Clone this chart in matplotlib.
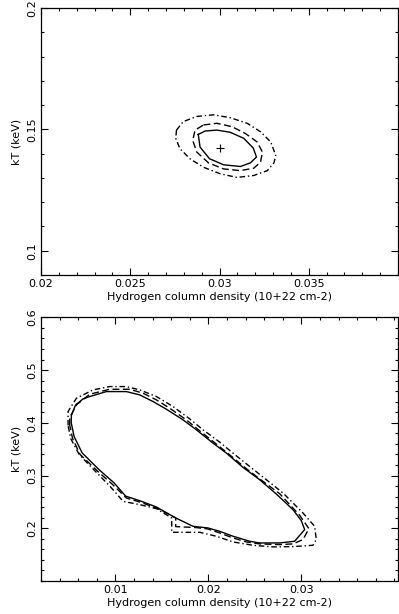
import matplotlib
matplotlib.use("Agg")
import matplotlib.pyplot as plt
from matplotlib.ticker import MultipleLocator, FixedLocator

# top panel: confidence contours around best fit
top_best = (0.0300, 0.1425)

top_solid_x = [0.02881, 0.02891, 0.02944, 0.03023, 0.03117, 0.03173, 0.03207, 0.03189, 0.03136, 0.03060, 0.02985, 0.02919, 0.02881]
top_solid_y = [0.1479, 0.1427, 0.1379, 0.1354, 0.1347, 0.1362, 0.1386, 0.1423, 0.1463, 0.1488, 0.1497, 0.1493, 0.1479]

top_dash_x = [0.02910, 0.02985, 0.03070, 0.03145, 0.03211, 0.03240, 0.03230, 0.03192, 0.03117, 0.03023, 0.02938, 0.02872, 0.02850, 0.02863, 0.02910]
top_dash_y = [0.1518, 0.1525, 0.1511, 0.1483, 0.1448, 0.1407, 0.1365, 0.1340, 0.1330, 0.1337, 0.1362, 0.1407, 0.1455, 0.1497, 0.1518]

top_dd_x = [0.02759, 0.02797, 0.02872, 0.02966, 0.03060, 0.03155, 0.03230, 0.03287, 0.03315, 0.03305, 0.03268, 0.03192, 0.03098, 0.03004, 0.02910, 0.02834, 0.02778, 0.02755, 0.02759]
top_dd_y = [0.1497, 0.1532, 0.1553, 0.1560, 0.1548, 0.1525, 0.1490, 0.1448, 0.1393, 0.1362, 0.1330, 0.1310, 0.1302, 0.1317, 0.1344, 0.1379, 0.1421, 0.1463, 0.1497]

# bottom panel
bot_solid_x = [0.00527, 0.00573, 0.00652, 0.00724, 0.00903, 0.01118, 0.01262, 0.01405, 0.01548, 0.01728, 0.01871, 0.02050, 0.02194,
               0.02373, 0.02552, 0.02731, 0.02910, 0.03000, 0.03036, 0.02928, 0.02767, 0.02552, 0.02444, 0.02265, 0.02122, 0.01996,
               0.01835, 0.01649, 0.01441, 0.01262, 0.01110, 0.00986, 0.00825, 0.00642, 0.00556, 0.00525, 0.00527]
bot_solid_y = [0.4151, 0.4340, 0.4453, 0.4498, 0.4592, 0.4592, 0.4529, 0.4403, 0.4258, 0.4056, 0.3867, 0.3615, 0.3425,
               0.3154, 0.2921, 0.2650, 0.2353, 0.2145, 0.1975, 0.1754, 0.1722, 0.1722, 0.1754, 0.1849, 0.1943, 0.2006,
               0.2038, 0.2196, 0.2404, 0.2523, 0.2610, 0.2860, 0.3110, 0.3430, 0.3740, 0.4000, 0.4151]

bot_dash_x = [0.00509, 0.00509, 0.00581, 0.00724, 0.00939, 0.01154, 0.01297, 0.01441, 0.01584, 0.01763, 0.01907, 0.02086, 0.02229,
              0.02409, 0.02588, 0.02767, 0.02982, 0.03082, 0.03018, 0.02910, 0.02767, 0.02552, 0.02409, 0.02265, 0.02122, 0.01996,
              0.01871, 0.01649, 0.01649, 0.01441, 0.01262, 0.01118, 0.00970, 0.00810, 0.00620, 0.00540, 0.00509]
bot_dash_y = [0.3950, 0.4088, 0.4340, 0.4542, 0.4636, 0.4636, 0.4561, 0.4435, 0.4277, 0.4056, 0.3848, 0.3596, 0.3394,
              0.3129, 0.2889, 0.2656, 0.2246, 0.1994, 0.1786, 0.1704, 0.1691, 0.1704, 0.1741, 0.1817, 0.1912, 0.1987,
              0.2013, 0.2032, 0.2196, 0.2385, 0.2498, 0.2574, 0.2830, 0.3080, 0.3400, 0.3700, 0.3950]

bot_dd_x = [0.00491, 0.00491, 0.00581, 0.00760, 0.00939, 0.01118, 0.01262, 0.01441, 0.01620, 0.01799, 0.01943, 0.02122, 0.02265,
            0.02444, 0.02624, 0.02803, 0.03018, 0.03143, 0.03161, 0.03125, 0.02910, 0.02695, 0.02480, 0.02265, 0.02086, 0.01907,
            0.01606, 0.01606, 0.01441, 0.01262, 0.01082, 0.01020, 0.00940, 0.00790, 0.00610, 0.00520, 0.00491]
bot_dd_y = [0.3950, 0.4214, 0.4466, 0.4624, 0.4687, 0.4687, 0.4624, 0.4498, 0.4308, 0.4075, 0.3867, 0.3634, 0.3425,
            0.3173, 0.2921, 0.2669, 0.2290, 0.2038, 0.1786, 0.1678, 0.1653, 0.1647, 0.1678, 0.1741, 0.1849, 0.1924,
            0.1924, 0.2196, 0.2372, 0.2448, 0.2511, 0.2640, 0.2800, 0.3070, 0.3400, 0.3700, 0.3950]

xlabel = "Hydrogen column density (10+22 cm-2)"
ylabel = "kT (keV)"

plt.rcParams['font.family'] = ['DejaVu Sans']
plt.rcParams['font.size'] = 8

fig = plt.figure(figsize=(3.99, 6.14), dpi=100)

dash_style = (0, (5, 2.5))
dd_style = (0, (4, 2, 1, 2))


def style_axes(ax, xmajor, ymajor, xminor, yminor):
    ax.xaxis.set_major_locator(FixedLocator(xmajor))
    ax.yaxis.set_major_locator(FixedLocator(ymajor))
    ax.xaxis.set_minor_locator(MultipleLocator(xminor))
    ax.yaxis.set_minor_locator(MultipleLocator(yminor))
    ax.xaxis.set_major_formatter(plt.FuncFormatter(lambda v, p: "%g" % round(v, 4)))
    ax.yaxis.set_major_formatter(plt.FuncFormatter(lambda v, p: "%g" % round(v, 4)))
    ax.tick_params(which="both", direction="in", top=True, right=True, width=0.8, colors="black")
    ax.tick_params(which="major", length=5, pad=3)
    ax.tick_params(which="minor", length=2.5)
    ax.tick_params(axis="y", labelrotation=90)
    for lab in ax.get_yticklabels():
        lab.set_va("center")
    for s in ax.spines.values():
        s.set_linewidth(0.9)
    ax.set_xlabel(xlabel, labelpad=2)
    ax.set_ylabel(ylabel, labelpad=4)


ax1 = fig.add_axes([0.1028, 0.5521, 0.8947, 0.4349])
ax1.plot(top_solid_x, top_solid_y, color="black", lw=1.0)
ax1.plot(top_dash_x, top_dash_y, color="black", lw=1.0, linestyle=dash_style)
ax1.plot(top_dd_x, top_dd_y, color="black", lw=1.0, linestyle=dd_style)
ax1.plot([top_best[0]], [top_best[1]], marker="+", color="black", ms=6, mew=0.8)
ax1.set_xlim(0.02, 0.04)
ax1.set_ylim(0.09, 0.2)
style_axes(ax1, [0.02, 0.025, 0.03, 0.035], [0.1, 0.15, 0.2], 0.001, 0.01)

ax2 = fig.add_axes([0.1028, 0.0537, 0.8947, 0.4295])
ax2.plot(bot_solid_x, bot_solid_y, color="black", lw=1.0)
ax2.plot(bot_dash_x, bot_dash_y, color="black", lw=1.0, linestyle=dash_style)
ax2.plot(bot_dd_x, bot_dd_y, color="black", lw=1.0, linestyle=dd_style)
ax2.set_xlim(0.002, 0.0404)
ax2.set_ylim(0.1, 0.6)
style_axes(ax2, [0.01, 0.02, 0.03], [0.2, 0.3, 0.4, 0.5, 0.6], 0.002, 0.02)

fig.savefig("out.png", dpi=100)
